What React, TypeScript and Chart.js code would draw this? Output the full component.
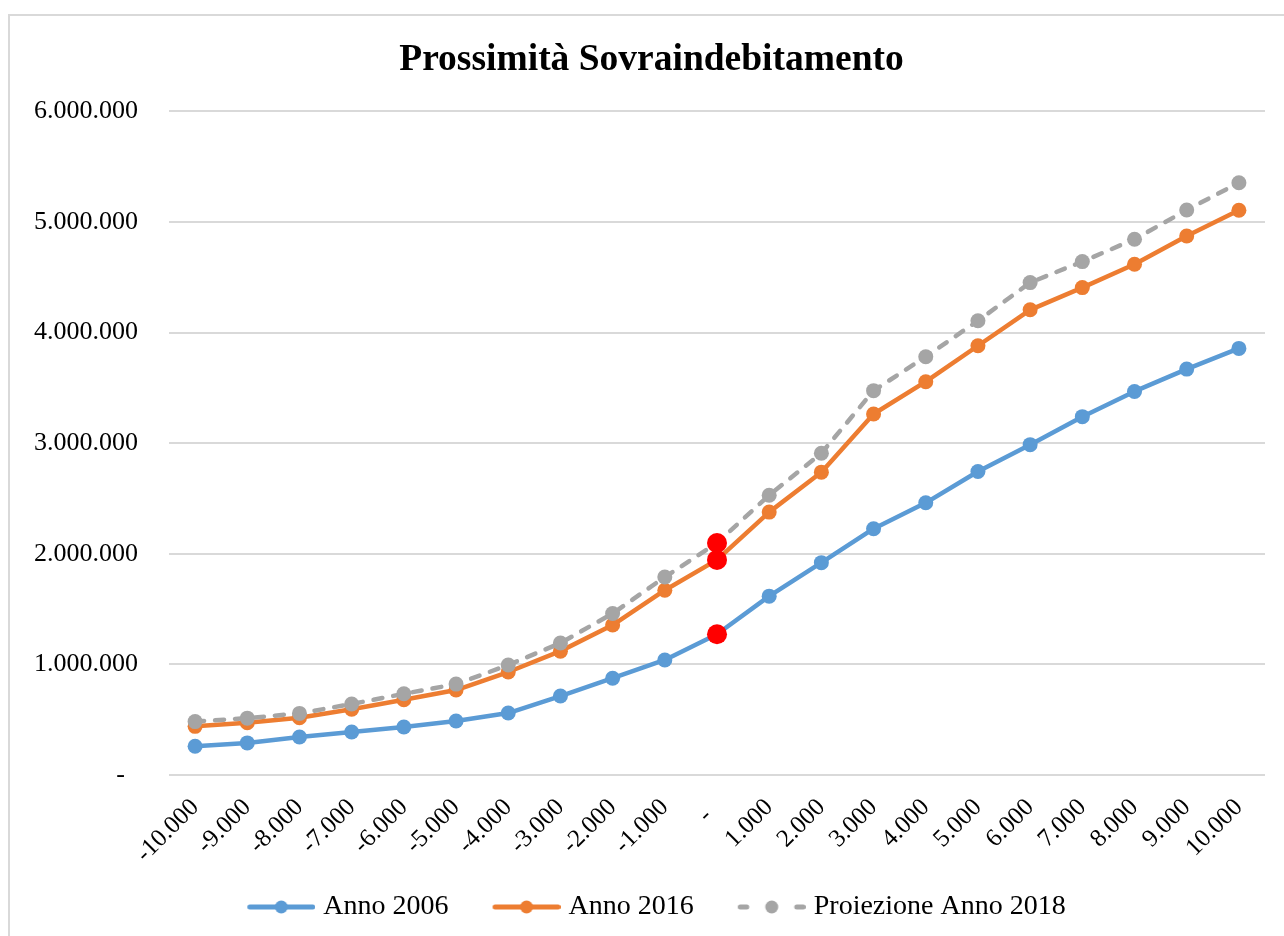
import React, { useEffect, useRef } from 'react';
import { Chart, registerables } from 'chart.js';

Chart.register(...registerables);

const categories = [-10000, -9000, -8000, -7000, -6000, -5000, -4000, -3000, -2000, -1000, 0, 1000, 2000, 3000, 4000, 5000, 6000, 7000, 8000, 9000, 10000];
const anno2006 = [260000, 290000, 344000, 389000, 434000, 488000, 560000, 714000, 875000, 1040000, 1273000, 1617000, 1920000, 2227000, 2461000, 2744000, 2987000, 3240000, 3468000, 3670000, 3857000];
const anno2016 = [440000, 472000, 518000, 594000, 680000, 768000, 931000, 1120000, 1356000, 1671000, 1945000, 2377000, 2738000, 3264000, 3556000, 3881000, 4206000, 4407000, 4618000, 4874000, 5106000];
const proiezione2018 = [483000, 514000, 557000, 642000, 734000, 822000, 994000, 1193000, 1460000, 1790000, 2098000, 2530000, 2909000, 3475000, 3782000, 4107000, 4452000, 4642000, 4844000, 5108000, 5355000];
const seriesLabels = ['Anno 2006', 'Anno 2016', 'Proiezione Anno 2018'];
const seriesColors = ['#5B9BD5', '#ED7D31', '#A5A5A5'];
const highlightIndex = 10;
const highlightColor = '#FF0000';
const yMin = 0;
const yMax = 6000000;
const yStep = 1000000;
const titleText = 'Prossimità Sovraindebitamento';

const FONT = "'Liberation Serif', 'Times New Roman', serif";

const fmt = (v: number): string => {
  if (v === 0) return '-  ';
  const s = Math.abs(Math.round(v)).toString().replace(/\B(?=(\d{3})+(?!\d))/g, '.');
  return (v < 0 ? '-' : '') + s;
};

// legend sample: box width 72, image 84 wide centred on the box; visible sample spans 68px
function makeLegendImage(color: string, dashed: boolean): HTMLCanvasElement {
  const c = document.createElement('canvas');
  c.width = 84;
  c.height = 16;
  const g = c.getContext('2d')!;
  const x0 = 16;
  const x1 = 84;
  g.strokeStyle = color;
  g.fillStyle = color;
  g.lineWidth = 5;
  g.lineCap = 'round';
  g.beginPath();
  if (dashed) {
    g.moveTo(x0 + 2.5, 8); g.lineTo(x0 + 9, 8);
    g.moveTo(x1 - 9, 8); g.lineTo(x1 - 2.5, 8);
  } else {
    g.moveTo(x0 + 2.5, 8); g.lineTo(x1 - 2.5, 8);
  }
  g.stroke();
  g.beginPath();
  g.arc((x0 + x1) / 2, 8, 6.5, 0, Math.PI * 2);
  g.fill();
  return c;
}

// the chart object is centred as if it were wider than the page: shift title and legend boxes
const centerShift = {
  id: 'centerShift',
  afterLayout(chart: any) {
    if (chart.titleBlock) chart.titleBlock.left += 28;
    if (chart.legend) chart.legend.left += 28;
  },
};

export default function App() {
  const ref = useRef<HTMLCanvasElement | null>(null);

  useEffect(() => {
    if (!ref.current) return;
    const images = [
      makeLegendImage(seriesColors[0], false),
      makeLegendImage(seriesColors[1], false),
      makeLegendImage(seriesColors[2], true),
    ];
    const values = [anno2006, anno2016, proiezione2018];
    const datasets = values.map((vals, i) => ({
      label: seriesLabels[i],
      data: vals,
      borderColor: seriesColors[i],
      backgroundColor: seriesColors[i],
      borderWidth: 4.5,
      borderDash: i === 2 ? [9, 11] : [],
      borderCapStyle: (i === 2 ? 'round' : 'butt') as any,
      borderJoinStyle: 'round' as any,
      tension: 0,
      fill: false,
      order: 2 - i,
      pointRadius: (ctx: any) => (ctx.dataIndex === highlightIndex ? 10 : 7.5),
      pointHoverRadius: (ctx: any) => (ctx.dataIndex === highlightIndex ? 10 : 7.5),
      pointBorderWidth: 0,
      pointBackgroundColor: (ctx: any) => (ctx.dataIndex === highlightIndex ? highlightColor : seriesColors[i]),
      pointBorderColor: (ctx: any) => (ctx.dataIndex === highlightIndex ? highlightColor : seriesColors[i]),
    }));

    const chart = new Chart(ref.current, {
      type: 'line',
      data: {
        labels: categories.map(fmt),
        datasets,
      },
      plugins: [centerShift],
      options: {
        animation: false,
        responsive: false,
        devicePixelRatio: 1,
        layout: { padding: { left: 0, right: 28, top: 0, bottom: 5 } },
        plugins: {
          tooltip: { enabled: false },
          title: {
            display: true,
            text: titleText,
            color: '#000',
            font: { family: FONT, size: 37.5, weight: 'bold' },
            padding: { top: 22, bottom: 28.4 },
          },
          legend: {
            display: true,
            position: 'bottom',
            labels: {
              usePointStyle: true,
              pointStyleWidth: 72,
              padding: 34,
              color: '#000',
              font: { family: FONT, size: 28 },
              generateLabels: (c: any) =>
                c.data.datasets.map((ds: any, i: number) => ({
                  text: ds.label,
                  pointStyle: images[i],
                  fillStyle: seriesColors[i],
                  strokeStyle: seriesColors[i],
                  lineWidth: 0,
                  hidden: false,
                  datasetIndex: i,
                  fontColor: '#000',
                })),
            },
          },
        },
        scales: {
          x: {
            type: 'category',
            offset: true,
            grid: { display: false, drawTicks: false },
            border: { display: false },
            ticks: {
              autoSkip: false,
              maxRotation: 45,
              minRotation: 45,
              padding: 18,
              color: '#000',
              font: { family: FONT, size: 25 },
            },
            afterFit: (scale: any) => { scale.height = 84; },
          },
          y: {
            min: yMin,
            max: yMax,
            grid: { color: '#D9D9D9', lineWidth: 2, drawTicks: false },
            border: { display: false },
            ticks: {
              stepSize: yStep,
              padding: 31,
              color: '#000',
              font: { family: FONT, size: 26 },
              callback: (v: any) => fmt(Number(v)),
            },
            afterFit: (scale: any) => { scale.width = 159; },
          },
        },
      },
    });
    return () => chart.destroy();
  }, []);

  return (
    <div
      style={{
        position: 'fixed',
        left: 8,
        top: 14,
        width: 1300,
        height: 960,
        borderTop: '2px solid #D9D9D9',
        borderLeft: '2px solid #D9D9D9',
        background: '#fff',
      }}
    >
      <canvas ref={ref} width={1283} height={920} style={{ display: 'block', width: 1283, height: 920 }} />
    </div>
  );
}
